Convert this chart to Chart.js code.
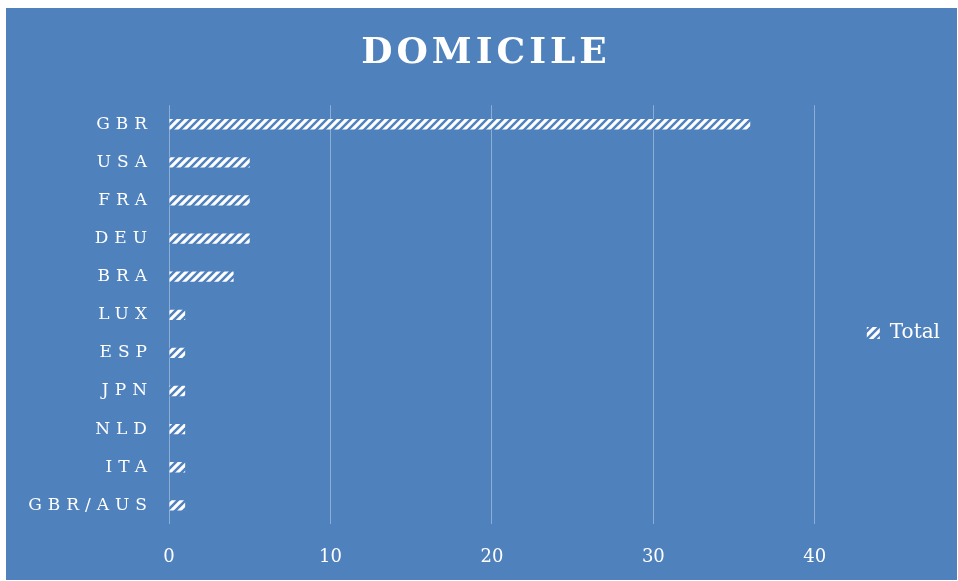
<!DOCTYPE html>
<html>
<head>
<meta charset="utf-8">
<script src="https://cdn.jsdelivr.net/npm/chart.js@4.4.1/dist/chart.umd.min.js"></script>
<style>
html, body { margin: 0; padding: 0; background: #fff; }
#wrap { position: absolute; left: 6px; top: 8px; width: 951px; height: 572px; background: #4f81bd; }
</style>
</head>
<body>
<div id="wrap"><canvas id="domicile_chart"></canvas></div>
<script>
var countries = ["GBR", "USA", "FRA", "DEU", "BRA", "LUX", "ESP", "JPN", "NLD", "ITA", "GBR/AUS"];
var totals = [36, 5, 5, 5, 4, 1, 1, 1, 1, 1, 1];
var axisMin = 0;
var axisMax = 40;
var axisStep = 10;

var BLUE = "#4f81bd";
var FONT = "'DejaVu Serif', Georgia, serif";

function hatch(fg, bg) {
    var c = document.createElement("canvas");
    c.width = 8;
    c.height = 8;
    var g = c.getContext("2d");
    g.fillStyle = fg;
    g.fillRect(0, 0, 8, 8);
    g.strokeStyle = bg;
    g.lineWidth = 2.5;
    g.beginPath();
    g.moveTo(-1, 9); g.lineTo(9, -1);
    g.moveTo(-1, 1); g.lineTo(1, -1);
    g.moveTo(7, 9); g.lineTo(9, 7);
    g.stroke();
    return g.createPattern(c, "repeat");
}

// canvas text letter spacing for title and category labels
function spaced(chart, obj, fn, sp) {
    if (!obj || obj[fn].spaced) return;
    var orig = obj[fn];
    obj[fn] = function() {
        var old = chart.ctx.letterSpacing;
        chart.ctx.letterSpacing = sp;
        orig.apply(this, arguments);
        chart.ctx.letterSpacing = old;
    };
    obj[fn].spaced = true;
}

var spacingPlugin = {
    id: "spacing",
    afterLayout: function(chart) {
        spaced(chart, chart.titleBlock, "draw", "4px");
        spaced(chart, chart.scales.y, "drawLabels", "6px");
    }
};

var ctx = document.getElementById("domicile_chart");
var chart = new Chart(ctx, {
    type: "bar",
    data: {
        labels: countries,
        datasets: [
            { label: "Total", data: totals, backgroundColor: hatch("#ffffff", BLUE), borderWidth: 0,
              barPercentage: 0.27, categoryPercentage: 1 }
        ]
    },
    options: {
        indexAxis: "y",
        responsive: true,
        maintainAspectRatio: false,
        animation: false,
        layout: { padding: { left: 16, right: 7, top: 0, bottom: -10 } },
        plugins: {
            title: {
                display: true,
                text: "DOMICILE",
                color: "#ffffff",
                font: { family: FONT, size: 36, weight: "bold" },
                padding: { top: 24, bottom: 30 }
            },
            legend: {
                position: "right",
                // invisible spacer title, pushes the legend item down a little
                title: { display: true, text: "Total", color: "rgba(0,0,0,0)", font: { size: 10 }, padding: { top: 56, bottom: 0 } },
                labels: {
                    color: "#ffffff",
                    font: { family: FONT, size: 20 },
                    boxWidth: 13,
                    boxHeight: 12,
                    padding: 52
                }
            },
            tooltip: { enabled: false }
        },
        scales: {
            x: {
                min: axisMin,
                max: axisMax,
                ticks: { stepSize: axisStep, color: "#ffffff", font: { family: FONT, size: 18 }, padding: 22 },
                grid: { color: "rgba(255,255,255,0.35)", drawTicks: false },
                border: { display: false }
            },
            y: {
                afterFit: function(scale) { scale.width = 147; },
                ticks: { color: "#ffffff", font: { family: FONT, size: 17 }, padding: 16 },
                grid: { display: false, drawTicks: false },
                border: { display: false }
            }
        }
    },
    plugins: [spacingPlugin]
});
chart.draw();
</script>
</body>
</html>
